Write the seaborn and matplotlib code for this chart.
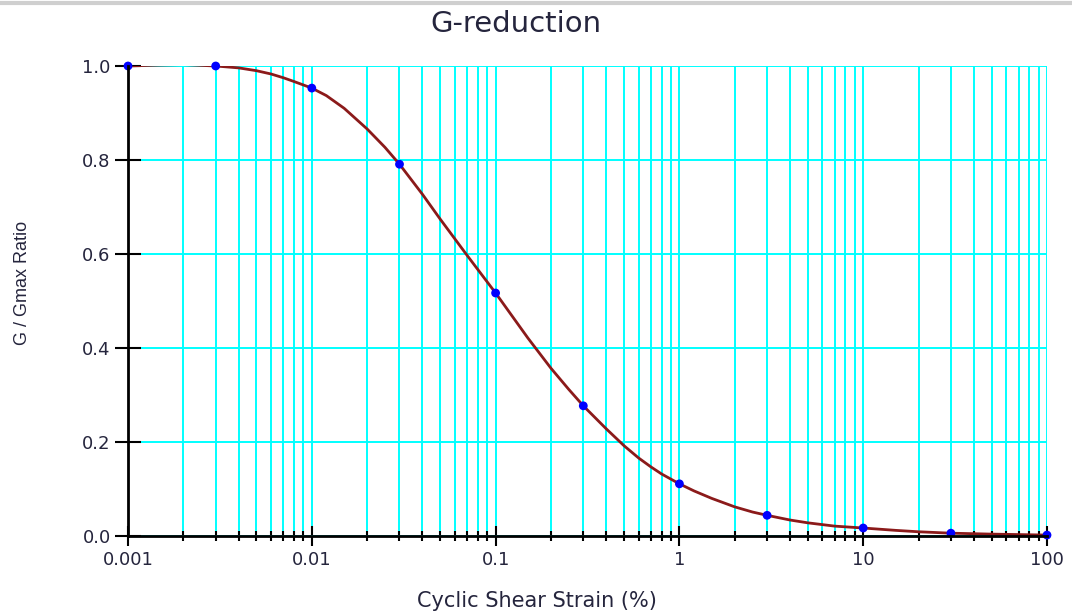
import numpy as np
import pandas as pd
import matplotlib
matplotlib.use("Agg")
import matplotlib.pyplot as plt
from matplotlib.lines import Line2D
from matplotlib.ticker import LogLocator, FixedLocator, NullFormatter, FuncFormatter
import seaborn as sns

# measured points (blue dots)
strain_pts = [0.001, 0.003, 0.01, 0.03, 0.1, 0.3, 1, 3, 10, 30, 100]
ratio_pts = [1.000, 1.000, 0.953, 0.791, 0.517, 0.277, 0.111, 0.044, 0.017, 0.006, 0.002]

# fitted curve
curve_strain = [0.001, 0.0015, 0.002, 0.003, 0.004, 0.005, 0.006, 0.007, 0.008, 0.01,
                0.012, 0.015, 0.02, 0.025, 0.03, 0.04, 0.05, 0.07, 0.1, 0.15, 0.2,
                0.25, 0.3, 0.4, 0.5, 0.6, 0.7, 0.8, 1, 1.2, 1.5, 2, 2.5, 3, 4, 5, 7,
                10, 15, 20, 30, 50, 100]
curve_ratio = [1.000, 1.002, 1.003, 1.000, 0.996, 0.990, 0.983, 0.975, 0.967, 0.953,
               0.937, 0.910, 0.866, 0.827, 0.791, 0.727, 0.674, 0.597, 0.517, 0.421, 0.357,
               0.312, 0.277, 0.228, 0.192, 0.166, 0.147, 0.132, 0.111, 0.096, 0.080, 0.062,
               0.051, 0.044, 0.034, 0.028, 0.021, 0.017, 0.012, 0.009, 0.006, 0.004, 0.002]

y_ticks = [0.0, 0.2, 0.4, 0.6, 0.8, 1.0]
x_ticks = [0.001, 0.01, 0.1, 1, 10, 100]

pts = pd.DataFrame({"strain": strain_pts, "ratio": ratio_pts})
curve = pd.DataFrame({"strain": curve_strain, "ratio": curve_ratio})

sns.set_style("white")
plt.rcParams["font.family"] = ["DejaVu Sans"]

txt_color = "#25253d"
fig = plt.figure(figsize=(10.72, 6.14), dpi=100)
ax = fig.add_axes([128 / 1072, 1 - 536 / 614, (1047 - 128) / 1072, (536 - 66) / 614])

ax.set_xscale("log")
ax.set_xlim(0.001, 100)
ax.set_ylim(0, 1.0)

# grid: every decade and every minor step
ax.xaxis.set_major_locator(FixedLocator(x_ticks))
ax.xaxis.set_minor_locator(LogLocator(base=10, subs=np.arange(2, 10), numticks=50))
ax.xaxis.set_minor_formatter(NullFormatter())
ax.xaxis.set_major_formatter(FuncFormatter(lambda v, p: f"{v:g}"))
ax.set_yticks(y_ticks)
ax.yaxis.set_major_formatter(FuncFormatter(lambda v, p: f"{v:.1f}"))

ax.grid(True, which="both", axis="x", color="#00ffff", linewidth=1.4)
ax.grid(True, which="major", axis="y", color="#00ffff", linewidth=1.4)
ax.set_axisbelow(True)

sns.lineplot(data=curve, x="strain", y="ratio", ax=ax, color="#8b1a1a",
             linewidth=2, zorder=3)
sns.scatterplot(data=pts, x="strain", y="ratio", ax=ax, color="#0000ff",
                s=40, edgecolor="none", zorder=4, clip_on=False)

for side in ["top", "right"]:
    ax.spines[side].set_visible(False)
for side in ["left", "bottom"]:
    ax.spines[side].set_color("black")
    ax.spines[side].set_linewidth(2)
    ax.spines[side].set_zorder(5)

ax.tick_params(which="both", bottom=True, left=True, top=False, right=False)
ax.tick_params(axis="y", which="major", direction="inout", length=19, width=1.5,
               color="black", labelsize=13, labelcolor=txt_color, pad=3)
ax.tick_params(axis="x", which="major", direction="inout", length=14, width=1.5,
               color="black", labelsize=13, labelcolor=txt_color, pad=4)
ax.tick_params(axis="x", which="minor", direction="inout", length=7, width=1.5,
               color="black")

ax.set_xlabel("")
ax.set_ylabel("")

fig.text(516 / 1072, 1 - 32 / 614, "G-reduction", ha="center", va="baseline",
         fontsize=21, color=txt_color)
fig.text(537 / 1072, 1 - 607 / 614, "Cyclic Shear Strain (%)", ha="center",
         va="baseline", fontsize=15, color=txt_color)
fig.text(23 / 1072, 1 - 283 / 614, "G / Gmax Ratio", ha="center", va="center",
         rotation=90, fontsize=13, color=txt_color, family="Liberation Sans")

# grey window border at the top
fig.add_artist(Line2D([0, 1], [1 - 3 / 614, 1 - 3 / 614], transform=fig.transFigure,
                      color="#cfcfcf", linewidth=3))

fig.savefig("out.png", dpi=100)
